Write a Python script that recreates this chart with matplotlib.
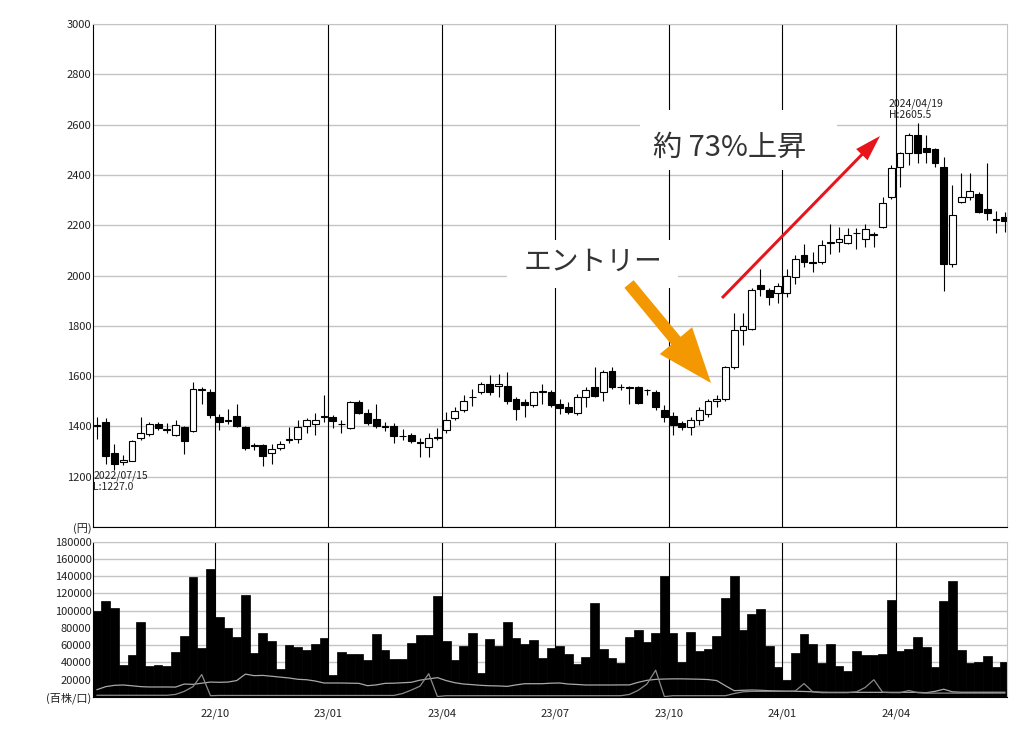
import numpy as np
import pandas as pd
import matplotlib
matplotlib.use("Agg")
import matplotlib.pyplot as plt
from matplotlib.patches import FancyArrow, Rectangle

plt.rcParams['font.family'] = ['Noto Sans CJK JP', 'DejaVu Sans']

# weekly candles, first week 2022/07/01
start_date = "2022-07-01"
opens = [1402, 1417, 1293, 1260, 1264, 1352, 1368, 1411, 1385, 1365,
         1398, 1382, 1544, 1537, 1436, 1420, 1440, 1397, 1325, 1325,
         1296, 1313, 1347, 1348, 1400, 1410, 1437, 1436, 1410, 1393,
         1498, 1455, 1428, 1400, 1401, 1362, 1366, 1338, 1320, 1352,
         1385, 1432, 1467, 1515, 1535, 1568, 1562, 1560, 1507, 1497,
         1484, 1538, 1537, 1490, 1477, 1453, 1517, 1557, 1535, 1620,
         1558, 1555, 1558, 1545, 1537, 1464, 1440, 1412, 1398, 1427,
         1451, 1500, 1507, 1637, 1782, 1787, 1961, 1941, 1932, 1932,
         1996, 2080, 2053, 2053, 2130, 2133, 2130, 2168, 2147, 2163,
         2193, 2311, 2433, 2487, 2560, 2507, 2503, 2433, 2044, 2291,
         2311, 2324, 2263, 2222, 2231]
highs = [1437, 1432, 1330, 1285, 1344, 1437, 1416, 1418, 1415, 1425,
         1402, 1578, 1555, 1548, 1450, 1470, 1490, 1400, 1335, 1332,
         1330, 1340, 1398, 1425, 1432, 1452, 1525, 1445, 1425, 1500,
         1505, 1470, 1490, 1418, 1412, 1388, 1372, 1352, 1372, 1392,
         1456, 1477, 1524, 1550, 1578, 1603, 1607, 1617, 1517, 1510,
         1540, 1570, 1545, 1507, 1497, 1530, 1557, 1637, 1624, 1637,
         1570, 1560, 1562, 1548, 1545, 1485, 1457, 1420, 1437, 1477,
         1510, 1524, 1640, 1850, 1850, 1950, 2025, 1950, 1970, 2025,
         2080, 2127, 2093, 2140, 2204, 2193, 2187, 2187, 2204, 2173,
         2313, 2440, 2493, 2567, 2605.5, 2560, 2507, 2473, 2360, 2407,
         2407, 2333, 2447, 2257, 2253]
lows = [1350, 1250, 1227, 1248, 1262, 1345, 1363, 1385, 1375, 1360,
        1290, 1378, 1490, 1432, 1385, 1410, 1398, 1305, 1305, 1244,
        1250, 1305, 1335, 1335, 1372, 1366, 1418, 1392, 1372, 1388,
        1450, 1405, 1395, 1380, 1335, 1345, 1333, 1280, 1280, 1345,
        1374, 1425, 1457, 1483, 1530, 1523, 1515, 1490, 1424, 1437,
        1478, 1490, 1477, 1450, 1450, 1445, 1477, 1515, 1500, 1550,
        1545, 1490, 1488, 1525, 1464, 1417, 1365, 1385, 1365, 1405,
        1437, 1477, 1500, 1630, 1724, 1784, 1920, 1884, 1890, 1915,
        1967, 2033, 2013, 2047, 2087, 2093, 2124, 2107, 2113, 2113,
        2190, 2305, 2353, 2440, 2447, 2447, 2433, 1940, 2033, 2287,
        2300, 2247, 2220, 2167, 2173]
closes = [1405, 1284, 1252, 1266, 1342, 1375, 1408, 1394, 1390, 1404,
          1340, 1547, 1547, 1444, 1418, 1425, 1400, 1315, 1322, 1284,
          1312, 1330, 1349, 1398, 1425, 1425, 1442, 1422, 1408, 1498,
          1455, 1412, 1402, 1398, 1362, 1360, 1340, 1335, 1352, 1358,
          1425, 1460, 1500, 1518, 1570, 1538, 1568, 1500, 1470, 1484,
          1537, 1542, 1484, 1475, 1458, 1517, 1544, 1520, 1617, 1555,
          1555, 1552, 1493, 1543, 1477, 1438, 1404, 1398, 1427, 1464,
          1500, 1510, 1637, 1784, 1800, 1944, 1948, 1915, 1960, 1998,
          2067, 2053, 2050, 2120, 2132, 2147, 2160, 2170, 2183, 2165,
          2287, 2427, 2487, 2560, 2487, 2490, 2447, 2047, 2240, 2311,
          2337, 2251, 2250, 2224, 2218]

# volume (百株)
volumes = [99000, 111400, 102900, 37400, 48900, 86700, 35500, 36600, 36200, 52000,
           70100, 138700, 56300, 148000, 92100, 79800, 69400, 117500, 50900, 74000,
           64400, 32800, 60500, 57800, 53900, 61300, 68200, 25800, 51600, 49700,
           50100, 43200, 73200, 53900, 43900, 43900, 62400, 72100, 72100, 116400,
           65100, 42400, 59300, 74000, 27700, 67100, 59000, 86700, 68200, 60900,
           65500, 45100, 56600, 58600, 49700, 38500, 45900, 108700, 55900, 45100,
           39300, 69400, 77800, 63200, 74000, 140300, 74000, 40100, 74800, 52800,
           55500, 70900, 114500, 140300, 77100, 96000, 101700, 59300, 34700, 20000,
           50900, 72800, 61300, 39300, 61300, 35500, 29700, 52800, 48900, 48200,
           49700, 111800, 53600, 55900, 69000, 57800, 34300, 111400, 134500, 53900,
           39300, 40100, 47000, 34300, 40100]

line_a = [8500, 12000, 13500, 13900, 13000, 12000, 11600, 11600, 11600, 11500,
          15000, 14600, 16000, 17300, 17000, 17300, 19000, 26500, 24700, 25000,
          24000, 23000, 22000, 20500, 20000, 18500, 16200, 16200, 16200, 16000,
          15800, 13100, 14000, 15800, 16000, 16500, 17000, 19500, 21000, 22400,
          19000, 16500, 15000, 14300, 13500, 13000, 12800, 12300, 14000, 15400,
          15400, 15400, 16000, 16200, 15000, 14500, 13900, 13900, 13900, 13900,
          14000, 14000, 17000, 19300, 20400, 20800, 21000, 21000, 20800, 20600,
          20200, 19000, 13000, 7300, 7800, 8100, 7800, 7300, 7000, 6800,
          6600, 6400, 6000, 5600, 5400, 5400, 5400, 5400, 5400, 5400,
          5400, 5400, 5400, 5400, 5400, 5000, 6500, 9000, 6000, 5500,
          5500, 5500, 5500, 5500, 5500]
line_b = [2000, 2000, 2000, 2000, 2000, 2000, 2000, 2000, 2000, 3000,
          6500, 12000, 26000, 1500, 1800, 1800, 1800, 1800, 1800, 1800,
          1800, 1800, 1800, 1800, 1800, 1800, 1800, 1800, 1800, 1800,
          1800, 1800, 1800, 1800, 1800, 4000, 8000, 12500, 27000, 500,
          1500, 1500, 1500, 1500, 1500, 1500, 1500, 1500, 1500, 1500,
          1500, 1500, 1500, 1500, 1500, 1500, 1500, 1500, 1500, 1500,
          1500, 3000, 7700, 15000, 31000, 500, 1500, 1500, 1500, 1500,
          1500, 1500, 1500, 4000, 6000, 6500, 6500, 6500, 6500, 6500,
          7000, 15500, 6000, 5000, 5000, 5000, 5000, 6000, 11000, 20000,
          5500, 5000, 5000, 7500, 5000, 4500, 4500, 4500, 4500, 4500,
          4500, 4500, 4500, 4500, 4500]

price_ticks = list(range(1000, 3001, 200))
volume_ticks = list(range(0, 180001, 20000))

dates = pd.date_range(start_date, periods=len(opens), freq="7D")
o = np.array(opens, float)
h = np.array(highs, float)
l = np.array(lows, float)
c = np.array(closes, float)
x = np.arange(len(o))

# quarter boundaries (first week of Jan/Apr/Jul/Oct)
qpos, qlab = [], []
for i in range(1, len(dates)):
    if dates[i].month != dates[i - 1].month and dates[i].month in (1, 4, 7, 10):
        qpos.append(i - 0.5)
        qlab.append(dates[i].strftime("%y/%m"))

GRID = '#c4c4c4'
fig = plt.figure(figsize=(10.24, 7.44), dpi=100)
ax = fig.add_axes([93 / 1024, 1 - 527 / 744, 914 / 1024, 503 / 744])
axv = fig.add_axes([93 / 1024, 1 - 697 / 744, 914 / 1024, 155.5 / 744])

xmin, xmax = -0.46, 104.25

# price panel
up = c >= o
ax.vlines(x, l, h, color='black', lw=0.8, zorder=2)
ax.bar(x, np.maximum(np.abs(c - o), 2), bottom=np.minimum(o, c), width=0.78,
       color=np.where(up, 'white', 'black'), edgecolor='black', linewidth=0.8, zorder=3)
for p in qpos:
    ax.axvline(p, color='black', lw=0.8, zorder=1)
ax.set_xlim(xmin, xmax)
ax.set_ylim(1000, 3000)
ax.set_yticks(price_ticks)
ax.set_yticklabels(['(円)'] + [str(v) for v in price_ticks[1:]])
ax.yaxis.grid(True, color=GRID, lw=1)
ax.set_axisbelow(True)
ax.set_xticks([])
ax.tick_params(axis='y', length=0, pad=1, labelsize=8, colors='#222222')

ilo = int(np.argmin(l))
ihi = int(np.argmax(h))
ax.text(xmin + 0.05, l[ilo] - 2, dates[ilo].strftime('%Y/%m/%d') + '\nL:%.1f' % l[ilo],
        fontsize=7.5, va='top', ha='left', linespacing=1.1, color='#222222', zorder=4)
ax.text(ihi - 3.3, h[ihi] + 97, dates[ihi].strftime('%Y/%m/%d') + '\nH:%.1f' % h[ihi],
        fontsize=7.5, va='top', ha='left', linespacing=1.1, color='#222222', zorder=4)

# volume panel
axv.bar(x, volumes, width=1.0, color='black', edgecolor='black', linewidth=0.5, zorder=2)
axv.plot(x, line_a, color='#a8a8a8', lw=0.9, zorder=3)
axv.plot(x, line_b, color='#8a8a8a', lw=0.9, zorder=3)
for p in qpos:
    axv.axvline(p, color='black', lw=0.8, zorder=1)
axv.set_xlim(xmin, xmax)
axv.set_ylim(0, 180000)
axv.set_yticks(volume_ticks)
axv.set_yticklabels(['(百株/口)'] + [str(v) for v in volume_ticks[1:]])
axv.yaxis.grid(True, color=GRID, lw=1)
axv.set_axisbelow(True)
axv.set_xticks(qpos)
axv.set_xticklabels(qlab)
axv.tick_params(axis='y', length=0, pad=1, labelsize=8, colors='#222222')
axv.tick_params(axis='x', length=0, pad=8, labelsize=8, colors='#222222')

for a in (ax, axv):
    a.spines['left'].set_color('black')
    a.spines['bottom'].set_color('black')
    a.spines['top'].set_color(GRID)
    a.spines['right'].set_color(GRID)

# overlay for the hand-drawn annotations (pixel coordinates)
ov = fig.add_axes([0, 0, 1, 1])
ov.set_xlim(0, 1024)
ov.set_ylim(744, 0)
ov.axis('off')
ov.add_patch(Rectangle((640, 110), 197, 60, facecolor='white', edgecolor='none'))
ov.add_patch(Rectangle((507, 240), 171, 48, facecolor='white', edgecolor='none'))
ov.text(730, 148, '約 73%上昇', fontsize=21, ha='center', va='center', color='#333333')
ov.text(593, 262, 'エントリー', fontsize=20, ha='center', va='center', color='#333333')
ov.add_patch(FancyArrow(629, 284, 82, 99, width=12, head_width=42, head_length=55,
                        length_includes_head=True, color='#f39800', lw=0))
ov.add_patch(FancyArrow(722, 298, 158, -162, width=3, head_width=16, head_length=26,
                        length_includes_head=True, color='#e8141c', lw=0))

fig.savefig('out.png', dpi=100, facecolor='white')
